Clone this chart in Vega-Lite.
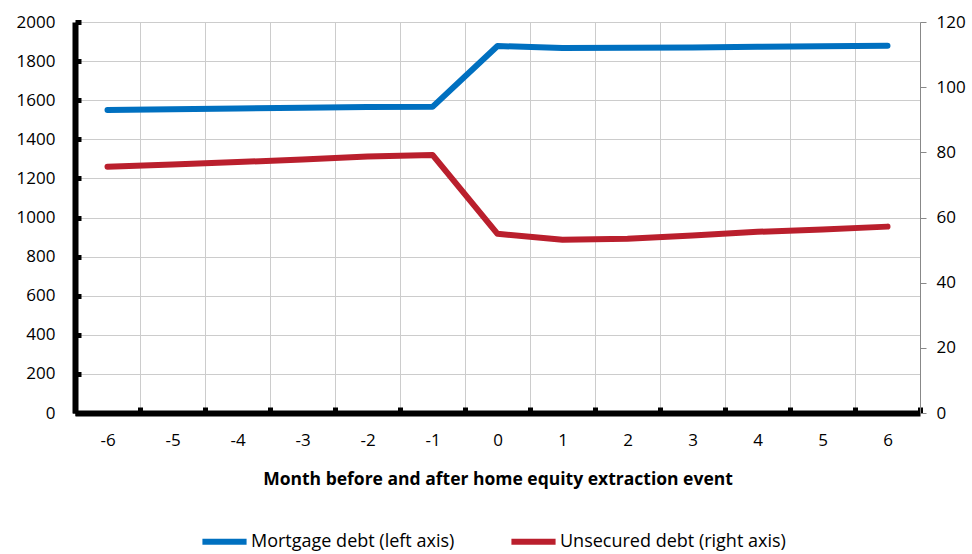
{
  "$schema": "https://vega.github.io/schema/vega-lite/v6.json",
  "width": 845,
  "height": 391,
  "padding": {"top": 13, "left": 16, "right": 5, "bottom": 0},
  "config": {
    "font": "Open Sans",
    "view": {"stroke": null},
    "axis": {"labelFont": "Open Sans", "titleFont": "Open Sans", "labelFontSize": 17, "labelColor": "#000000", "titleColor": "#000000"},
    "legend": {"labelFont": "Open Sans"}
  },
  "data": {
    "values": [
      {"month": -6, "series": "Mortgage debt (left axis)", "value": 1550},
      {"month": -5, "series": "Mortgage debt (left axis)", "value": 1554},
      {"month": -4, "series": "Mortgage debt (left axis)", "value": 1558},
      {"month": -3, "series": "Mortgage debt (left axis)", "value": 1562},
      {"month": -2, "series": "Mortgage debt (left axis)", "value": 1565},
      {"month": -1, "series": "Mortgage debt (left axis)", "value": 1566},
      {"month": 0, "series": "Mortgage debt (left axis)", "value": 1877},
      {"month": 1, "series": "Mortgage debt (left axis)", "value": 1867},
      {"month": 2, "series": "Mortgage debt (left axis)", "value": 1868},
      {"month": 3, "series": "Mortgage debt (left axis)", "value": 1870},
      {"month": 4, "series": "Mortgage debt (left axis)", "value": 1873},
      {"month": 5, "series": "Mortgage debt (left axis)", "value": 1876},
      {"month": 6, "series": "Mortgage debt (left axis)", "value": 1878},
      {"month": -6, "series": "Unsecured debt (right axis)", "value": 75.6},
      {"month": -5, "series": "Unsecured debt (right axis)", "value": 76.3},
      {"month": -4, "series": "Unsecured debt (right axis)", "value": 77.0},
      {"month": -3, "series": "Unsecured debt (right axis)", "value": 77.8},
      {"month": -2, "series": "Unsecured debt (right axis)", "value": 78.7},
      {"month": -1, "series": "Unsecured debt (right axis)", "value": 79.2},
      {"month": 0, "series": "Unsecured debt (right axis)", "value": 55.0},
      {"month": 1, "series": "Unsecured debt (right axis)", "value": 53.2},
      {"month": 2, "series": "Unsecured debt (right axis)", "value": 53.5},
      {"month": 3, "series": "Unsecured debt (right axis)", "value": 54.5},
      {"month": 4, "series": "Unsecured debt (right axis)", "value": 55.6},
      {"month": 5, "series": "Unsecured debt (right axis)", "value": 56.3},
      {"month": 6, "series": "Unsecured debt (right axis)", "value": 57.2}
    ]
  },
  "encoding": {
    "x": {
      "field": "month",
      "type": "ordinal",
      "sort": "ascending",
      "bandPosition": 0.5,
      "scale": {"type": "band", "paddingInner": 0, "paddingOuter": 0},
      "axis": {
        "title": "Month before and after home equity extraction event",
        "titleFontSize": 17.5,
        "titleFontWeight": "bold",
        "titlePadding": 22,
        "labelAngle": 0,
        "labelPadding": 25,
        "tickBand": "extent",
        "grid": true,
        "gridColor": "#CCCCCC",
        "gridWidth": 1,
        "domainColor": "#000000",
        "domainWidth": 6,
        "tickColor": "#000000",
        "tickWidth": 5,
        "tickSize": -6
      }
    },
    "color": {
      "field": "series",
      "type": "nominal",
      "scale": {"domain": ["Mortgage debt (left axis)", "Unsecured debt (right axis)"], "range": ["#0070C0", "#BA1F2D"]},
      "legend": {
        "title": null,
        "orient": "none",
        "legendX": 124,
        "legendY": 494,
        "direction": "horizontal",
        "labelFontSize": 18,
        "labelLimit": 0,
        "labelColor": "#000000",
        "symbolType": "stroke",
        "symbolStrokeWidth": 6,
        "symbolSize": 1950,
        "labelOffset": 1,
        "columnPadding": 44
      }
    }
  },
  "layer": [
    {
      "transform": [{"filter": "datum.series === 'Mortgage debt (left axis)'"}],
      "mark": {"type": "line", "strokeWidth": 6, "strokeCap": "round", "strokeJoin": "round"},
      "encoding": {
        "y": {
          "field": "value",
          "type": "quantitative",
          "scale": {"domain": [0, 2000], "nice": false},
          "axis": {
            "title": null,
            "orient": "left",
            "format": "d",
            "values": [0, 200, 400, 600, 800, 1000, 1200, 1400, 1600, 1800, 2000],
            "grid": true,
            "gridColor": "#CCCCCC",
            "gridWidth": 1,
            "domainColor": "#000000",
            "domainWidth": 6,
            "tickColor": "#000000",
            "tickWidth": 5,
            "tickSize": -6,
            "labelPadding": 26
          }
        }
      }
    },
    {
      "transform": [{"filter": "datum.series === 'Unsecured debt (right axis)'"}],
      "mark": {"type": "line", "strokeWidth": 6, "strokeCap": "round", "strokeJoin": "round"},
      "encoding": {
        "y": {
          "field": "value",
          "type": "quantitative",
          "scale": {"domain": [0, 120], "nice": false},
          "axis": {
            "title": null,
            "orient": "right",
            "format": "d",
            "values": [0, 20, 40, 60, 80, 100, 120],
            "grid": false,
            "domainColor": "#888888",
            "domainWidth": 1,
            "tickColor": "#888888",
            "tickWidth": 1,
            "tickSize": 6,
            "labelPadding": 10
          }
        }
      }
    }
  ],
  "resolve": {"scale": {"y": "independent"}}
}
